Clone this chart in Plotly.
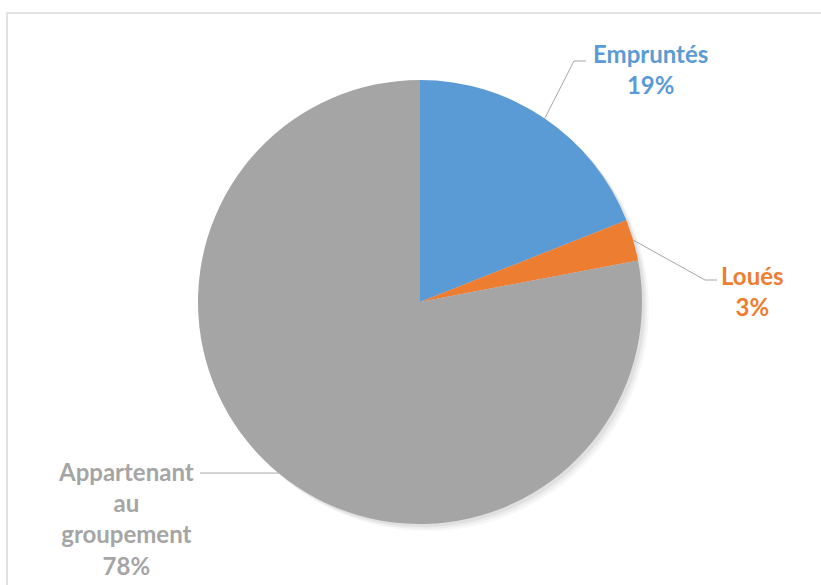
import math
import plotly.graph_objects as go

# Répartition des biens
labels = ["Empruntés", "Loués", "Appartenant au groupement"]
label_lines = ["Empruntés", "Loués", "Appartenant<br>au<br>groupement"]
values = [19, 3, 78]
colors = ["#5B9BD5", "#ED7D31", "#A5A5A5"]

W, H = 821, 585
CX, CY, R = 420, 302, 222


def px(x):
    return x / W


def py(y):
    return 1 - y / H


def dom(dx=0, dy=0):
    return dict(x=[px(CX - R + dx), px(CX + R + dx)],
                y=[py(CY + R + dy), py(CY - R + dy)])


fig = go.Figure()

# soft drop shadow under the pie
for off, a in [(7, 0.03), (5, 0.04), (3, 0.05)]:
    fig.add_trace(go.Pie(
        values=[1], labels=["s"], sort=False, domain=dom(off, off),
        marker=dict(colors=[f"rgba(0,0,0,{a})"], line=dict(width=0)),
        textinfo="none", hoverinfo="skip", showlegend=False,
    ))

fig.add_trace(go.Pie(
    labels=labels, values=values, sort=False, direction="clockwise",
    rotation=0, domain=dom(),
    marker=dict(colors=colors, line=dict(width=0)),
    textinfo="none", hoverinfo="label+percent", showlegend=False,
))

# label placement (pixel coords): text centre, elbow point, line end
layout_pts = [
    dict(text=(650, 69), elbow=(574, 61), end=(586, 61)),
    dict(text=(752, 291), elbow=(705, 280), end=(717, 280)),
    dict(text=(126, 518), elbow=None, end=(200, 0)),
]

total = sum(values)
cum = 0
shapes = []
annotations = []
for v, txt, col, lp in zip(values, label_lines, colors, layout_pts):
    mid = (cum + v / 2) / total * 2 * math.pi
    cum += v
    ex = CX + R * math.sin(mid)
    ey = CY - R * math.cos(mid)
    if lp["elbow"] is None:
        pts = [(ex, ey), (lp["end"][0], ey)]
    else:
        pts = [(ex, ey), lp["elbow"], lp["end"]]
    path = "M " + " L ".join(f"{px(x)},{py(y)}" for x, y in pts)
    shapes.append(dict(type="path", path=path, xref="paper", yref="paper",
                       line=dict(color="#A6A6A6", width=1)))
    pct = f"{round(v / total * 100)}%"
    annotations.append(dict(
        x=px(lp["text"][0]), y=py(lp["text"][1]), xref="paper", yref="paper",
        text=f"{txt}<br>{pct}", showarrow=False, align="center",
        xanchor="center", yanchor="middle",
        font=dict(family="Lato", size=24, color=col, weight="bold"),
    ))

# chart frame
shapes.append(dict(type="rect", xref="paper", yref="paper",
                   x0=px(7), y0=py(H + 20), x1=px(W + 20), y1=py(13),
                   line=dict(color="#D9D9D9", width=1.5)))

fig.update_layout(
    width=W, height=H,
    margin=dict(l=0, r=0, t=0, b=0),
    paper_bgcolor="white", plot_bgcolor="white",
    shapes=shapes, annotations=annotations,
)

fig.write_html("out.html")
